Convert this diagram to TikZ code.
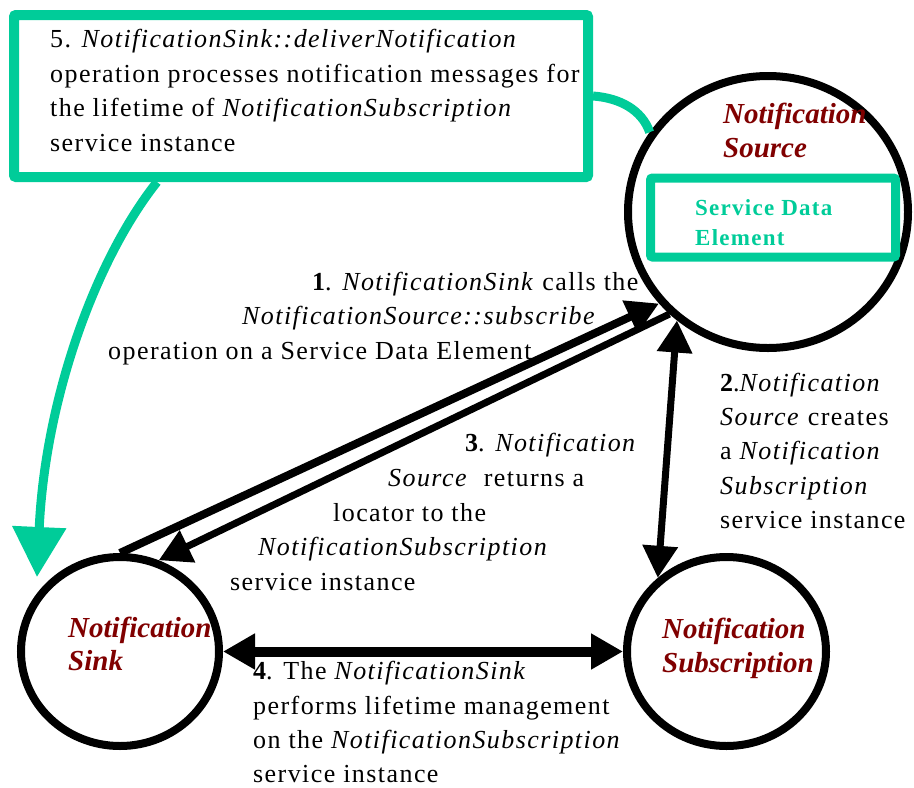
\documentclass[tikz,border=0pt]{standalone}
\usepackage{fontspec}
\setmainfont{Liberation Serif}[LetterSpace=5.5]
\newfontfamily\titlefont{Liberation Serif}
\usetikzlibrary{shapes.geometric,arrows.meta}

\definecolor{sdeteal}{RGB}{0,204,153}
\definecolor{nodered}{RGB}{128,0,0}

\begin{document}
\begin{tikzpicture}[x=1pt,y=-1pt,
  txt/.style={anchor=base west, inner sep=0pt, font=\fontsize{26}{34}\selectfont},
  ttl/.style={anchor=base west, inner sep=0pt, text=nodered,
    font=\titlefont\fontsize{29}{34}\selectfont\bfseries\itshape},
  sdetxt/.style={anchor=base west, inner sep=0pt, text=sdeteal,
    font=\fontsize{23}{30}\selectfont\bfseries},
  actor/.style={ellipse, draw, line width=8pt, inner sep=0pt},
  tealbox/.style={rectangle, draw=sdeteal, rounded corners=2pt, inner sep=0pt},
  link/.style={line width=8pt, -{Triangle[length=32pt,width=34pt]}},
  dlink/.style={line width=8pt, {Triangle[length=32pt,width=34pt]}-{Triangle[length=32pt,width=34pt]}},
  tealline/.style={draw=sdeteal, line width=9pt}
]
\useasboundingbox (0,0) rectangle (914,788);

% the three service instances
\node[actor, minimum width=280pt, minimum height=272pt] (source) at (768,212) {};
\node[actor, minimum width=198pt, minimum height=189pt] (sink) at (120,651.5) {};
\node[actor, minimum width=199pt, minimum height=189pt] (sub) at (726.5,651.5) {};

% service data element inside the source
\node[tealbox, line width=9pt, minimum width=245pt, minimum height=79pt] (sde) at (773,217.5) {};
\node[sdetxt] (sdea) at (695,215) {Service Data};
\node[sdetxt] (sdeb) at (695,245) {Element};

% instance names
\node[ttl] (srca) at (723,123) {Notification};
\node[ttl] (srcb) at (723,157) {Source};
\node[ttl] (snka) at (68,637) {Notification};
\node[ttl] (snkb) at (68,670) {Sink};
\node[ttl] (suba) at (662,638) {Notification};
\node[ttl] (subb) at (662,672) {Subscription};

% step 5 note
\node[tealbox, line width=10pt, minimum width=574pt, minimum height=162pt] (note) at (301,96) {};
\node[txt] (n5a) at (50,47) {5. \textit{NotificationSink::deliverNotification}};
\node[txt] (n5b) at (50,82) {operation processes notification messages for};
\node[txt] (n5c) at (50,116) {the lifetime of \textit{NotificationSubscription}};
\node[txt] (n5d) at (50,151) {service instance};

% step 1
\node[txt] (n1a) at (312,290) {\textbf{1}. \textit{NotificationSink} calls the};
\node[txt] (n1b) at (242,324) {\textit{NotificationSource::subscribe}};
\node[txt] (n1c) at (108,359) {operation on a Service Data Element};

% step 2
\node[txt] (n2a) at (720,391) {\textbf{2}.\textit{Notification}};
\node[txt] (n2b) at (720,425) {\textit{Source} creates};
\node[txt] (n2c) at (720,459) {a \textit{Notification}};
\node[txt] (n2d) at (720,494) {\textit{Subscription}};
\node[txt] (n2e) at (720,528) {service instance};

% step 3
\node[txt] (n3a) at (465,451) {\textbf{3}. \textit{Notification}};
\node[txt] (n3b) at (388,486) {\textit{Source}\ \ returns a};
\node[txt] (n3c) at (333,521) {locator to the};
\node[txt] (n3d) at (258,555) {\textit{NotificationSubscription}};
\node[txt] (n3e) at (230,590) {service instance};

% step 4
\node[txt] (n4a) at (253,679) {\textbf{4}. The \textit{NotificationSink}};
\node[txt] (n4b) at (253,714) {performs lifetime management};
\node[txt] (n4c) at (253,748) {on the \textit{NotificationSubscription}};
\node[txt] (n4d) at (253,782) {service instance};

% connectors
\coordinate (sinkhit) at (37,577);
\draw[tealline] (note.east) .. controls (620,98) and (642,110) .. (source.146);
\draw[tealline, -{Triangle[length=50pt,width=52pt]}]
  ([xshift=148pt]note.south west) .. controls (95,260) and (45,400) .. (sinkhit);

\draw[link] (sink.north) -- (source.220);
\draw[link, line width=7pt] (source.226) -- (sink.67);
\draw[dlink, line width=7pt] (source.230) -- (sub.133);
\draw[dlink, line width=10pt] (sink.east) -- (sub.west);
\end{tikzpicture}
\end{document}
